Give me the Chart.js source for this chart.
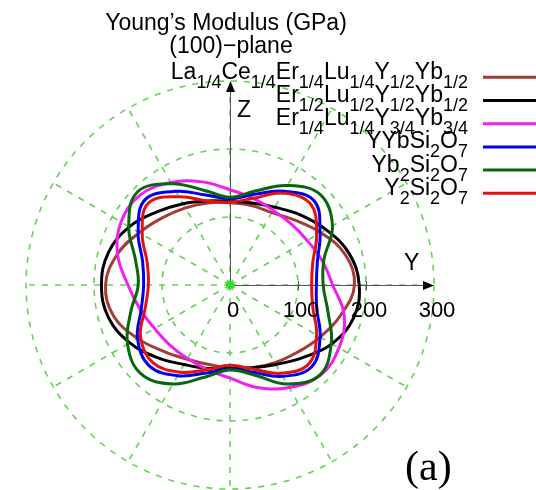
<!DOCTYPE html>
<html>
<head>
<meta charset="utf-8">
<script src="https://cdn.jsdelivr.net/npm/chart.js@4.4.1/dist/chart.umd.min.js"></script>
<style>
  html, body { margin: 0; padding: 0; background: #ffffff; }
  #wrap { width: 536px; height: 490px; position: relative; }
</style>
</head>
<body>
<div id="wrap"><canvas id="c" width="536" height="490"></canvas></div>
<script>
// Directions in the (100) plane, degrees counter-clockwise from the +Y axis
const ANGLES = [0, 15, 30, 45, 60, 75, 90, 105, 120, 135, 150, 165,
                180, 195, 210, 225, 240, 255, 270, 285, 300, 315, 330, 345];

// Young's modulus (GPa) along each direction
const E_LaCeErLuYYb = [183, 175, 154, 135, 123, 121, 121, 125, 131, 140, 154, 172,
                       183, 177, 157, 138, 126, 121, 122, 126, 132, 140, 153, 169];
const E_ErLuYYb_half = [190, 181, 163, 146, 132, 125, 123, 128, 138, 152, 171, 185,
                        189, 185, 170, 151, 135, 127, 122, 126, 135, 151, 173, 188];
const E_ErLuYYb_mix = [151, 140, 131, 127, 127, 132, 140, 157, 174, 187, 185, 171,
                       150, 137, 128, 125, 125, 129, 137, 156, 174, 188, 185, 174];
const E_YYbSi2O7 = [127, 133, 153, 175, 159, 138, 127, 137, 159, 177, 156, 133,
                    127, 135, 157, 168, 154, 134, 124, 133, 155, 170, 153, 132];
const E_Yb2Si2O7 = [137, 143, 174, 188, 169, 143, 129, 144, 172, 193, 172, 144,
                    135, 151, 174, 185, 168, 140, 125, 137, 168, 187, 172, 149];
const E_Y2Si2O7 = [120, 126, 147, 168, 156, 132, 122, 128, 150, 170, 149, 126,
                   120, 129, 152, 161, 148, 129, 118, 128, 150, 164, 147, 126];

const SERIES = [E_LaCeErLuYYb, E_ErLuYYb_half, E_ErLuYYb_mix, E_YYbSi2O7, E_Yb2Si2O7, E_Y2Si2O7];
const SERIES_LABELS = [
  'La_{1/4}Ce_{1/4}Er_{1/4}Lu_{1/4}Y_{1/2}Yb_{1/2}',
  'Er_{1/2}Lu_{1/2}Y_{1/2}Yb_{1/2}',
  'Er_{1/4}Lu_{1/4}Y_{3/4}Yb_{3/4}',
  'YYbSi_2O_7',
  'Yb_2Si_2O_7',
  'Y_2Si_2O_7'
];
const SERIES_COLORS = ['#a53b35', '#000000', '#f020f0', '#0000ee', '#08660c', '#e31212'];

// Radial ticks (GPa)
const R_TICKS = [0, 100, 200, 300];
const R_MAX = 300;

const GRID_GREEN = 'rgba(95, 205, 80, 0.95)';
const DASH = [6, 7];
const SANS = '"Liberation Sans", Arial, Helvetica, sans-serif';
const SERIF = '"Liberation Serif", "Times New Roman", serif';

// Radar indices run clockwise from the start angle, so reorder each series
const toClockwise = a => a.map((_, j) => a[(a.length - j) % a.length]);

// Split text with _x / _{...} subscripts into runs
function parseRich(s) {
  const runs = [];
  let i = 0;
  while (i < s.length) {
    if (s[i] === '_') {
      if (s[i + 1] === '{') {
        const j = s.indexOf('}', i);
        runs.push({ t: s.slice(i + 2, j), sub: true });
        i = j + 1;
      } else {
        runs.push({ t: s[i + 1], sub: true });
        i += 2;
      }
    } else {
      let j = i;
      while (j < s.length && s[j] !== '_') j++;
      runs.push({ t: s.slice(i, j), sub: false });
      i = j;
    }
  }
  return runs;
}

function drawRichRight(ctx, s, xRight, baseline) {
  const runs = parseRich(s);
  const mainFont = '23px ' + SANS, subFont = '18px ' + SANS;
  let w = 0;
  runs.forEach(r => { ctx.font = r.sub ? subFont : mainFont; w += ctx.measureText(r.t).width; });
  let x = xRight - w;
  ctx.textAlign = 'left';
  ctx.textBaseline = 'alphabetic';
  runs.forEach(r => {
    ctx.font = r.sub ? subFont : mainFont;
    ctx.fillText(r.t, x, baseline + (r.sub ? 9 : 0));
    x += ctx.measureText(r.t).width;
  });
}

function arrowHead(ctx, x, y, dx, dy) {
  const len = 11, half = 4.5;
  const px = -dy, py = dx;
  ctx.beginPath();
  ctx.moveTo(x, y);
  ctx.lineTo(x - dx * len + px * half, y - dy * len + py * half);
  ctx.lineTo(x - dx * len - px * half, y - dy * len - py * half);
  ctx.closePath();
  ctx.fill();
}

const polarExtras = {
  id: 'polarExtras',
  beforeDatasetsDraw(chart) {
    const s = chart.scales.r, ctx = chart.ctx;
    const cx = s.xCenter, cy = s.yCenter;
    const rEnd = s.getDistanceFromCenterForValue(R_MAX);
    ctx.save();
    ctx.strokeStyle = '#555555';
    ctx.fillStyle = '#000000';
    ctx.lineWidth = 1;
    // Y axis (to the right)
    ctx.beginPath();
    ctx.moveTo(cx, cy + 0.5);
    ctx.lineTo(cx + rEnd - 6, cy + 0.5);
    ctx.stroke();
    arrowHead(ctx, cx + rEnd, cy + 0.5, 1, 0);
    // Z axis (upwards)
    ctx.beginPath();
    ctx.moveTo(cx + 0.5, cy);
    ctx.lineTo(cx + 0.5, cy - rEnd + 6);
    ctx.stroke();
    arrowHead(ctx, cx + 0.5, cy - rEnd, 0, -1);
    // tick marks on the Y axis
    R_TICKS.forEach(v => {
      if (v === 0 || v === R_MAX) return;
      const x = cx + s.getDistanceFromCenterForValue(v) + 0.5;
      ctx.beginPath();
      ctx.moveTo(x, cy - 4);
      ctx.lineTo(x, cy + 5);
      ctx.stroke();
    });
    ctx.restore();
  },
  afterDatasetsDraw(chart) {
    const s = chart.scales.r, ctx = chart.ctx;
    const cx = s.xCenter, cy = s.yCenter;
    const rEnd = s.getDistanceFromCenterForValue(R_MAX);
    ctx.save();
    // origin marker
    ctx.fillStyle = '#2ee02e';
    ctx.beginPath();
    ctx.arc(cx, cy, 4, 0, Math.PI * 2);
    ctx.fill();

    ctx.fillStyle = '#000000';
    // tick labels along Y
    ctx.font = '22px ' + SANS;
    ctx.textAlign = 'center';
    ctx.textBaseline = 'alphabetic';
    R_TICKS.forEach(v => {
      ctx.fillText(String(v), cx + s.getDistanceFromCenterForValue(v) + 3, cy + 32);
    });
    // axis names
    ctx.font = '23px ' + SANS;
    ctx.textAlign = 'left';
    ctx.fillText('Y', cx + rEnd - 30, cy - 15);
    ctx.fillText('Z', cx + 7, cy - 168);

    // title
    ctx.textAlign = 'center';
    ctx.fillText('Young\u2019s Modulus (GPa)', 226, 30);
    ctx.fillText('(100)\u2212plane', 231, 53);

    // key
    SERIES_LABELS.forEach((lab, i) => {
      const ly = 77.3 + i * 23.2;
      ctx.fillStyle = '#000000';
      drawRichRight(ctx, lab, 468, ly + 1.5);
      ctx.strokeStyle = SERIES_COLORS[i];
      ctx.lineWidth = 3;
      ctx.beginPath();
      ctx.moveTo(483, ly);
      ctx.lineTo(540, ly);
      ctx.stroke();
    });

    // panel tag
    ctx.fillStyle = '#000000';
    ctx.font = '42px ' + SERIF;
    ctx.textAlign = 'left';
    ctx.fillText('(a)', 405, 480);
    ctx.restore();
  }
};

new Chart(document.getElementById('c'), {
  type: 'radar',
  data: {
    labels: toClockwise(ANGLES).map(String),
    datasets: SERIES.map((vals, i) => ({
      label: SERIES_LABELS[i],
      data: toClockwise(vals),
      borderColor: SERIES_COLORS[i],
      backgroundColor: 'rgba(0,0,0,0)',
      borderWidth: 3,
      pointRadius: 0,
      pointHoverRadius: 0,
      fill: false,
      tension: 0.4,
      order: SERIES.length - i
    }))
  },
  options: {
    responsive: false,
    animation: false,
    devicePixelRatio: 1,
    layout: { padding: { left: 26, top: 81, right: 102, bottom: 1 } },
    plugins: { legend: { display: false }, tooltip: { enabled: false }, title: { display: false } },
    scales: {
      r: {
        min: 0,
        max: R_MAX,
        startAngle: 90,
        ticks: { display: false, stepSize: 100 },
        pointLabels: { display: false },
        grid: { circular: true, color: GRID_GREEN, lineWidth: 1.6 },
        border: { dash: DASH },
        angleLines: {
          display: true,
          color: ctx => (ctx.index % 2 === 0 ? GRID_GREEN : null),
          lineWidth: 1.6,
          borderDash: DASH
        }
      }
    }
  },
  plugins: [polarExtras]
});
</script>
</body>
</html>
